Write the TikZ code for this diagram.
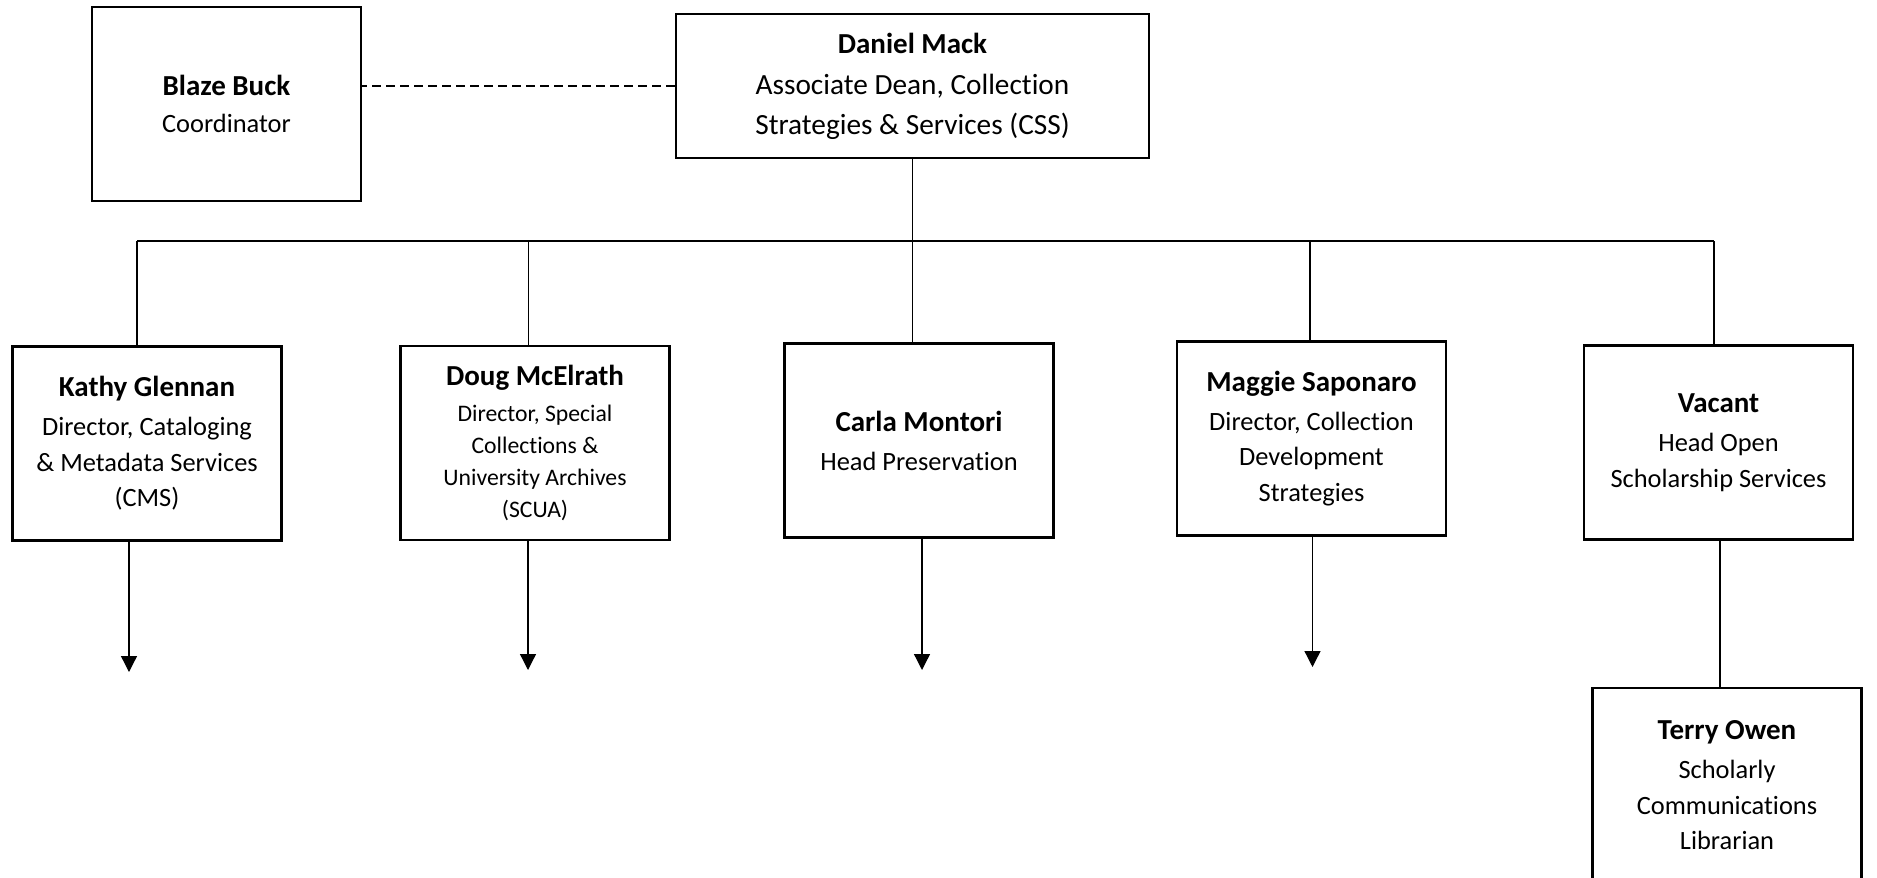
\documentclass[tikz,border=0pt]{standalone}
\usepackage{fontspec}
\setmainfont{Carlito}[Ligatures=NoCommon]
\usetikzlibrary{arrows.meta}
\tikzset{
  box/.style={draw=black, line width=2.6pt, rectangle, inner sep=0pt,
    minimum width=269pt, minimum height=194pt, align=center,
    font=\fontsize{26.4}{35.5}\selectfont},
  conn/.style={draw=black, line width=1.3pt},
  dashconn/.style={draw=black, line width=1.8pt, dash pattern=on 9pt off 5pt},
  arr/.style={conn, -{Triangle[width=16pt,length=16pt]}},
}
\newcommand{\nm}[1]{{\fontsize{29}{35.5}\selectfont\bfseries #1}}
\begin{document}
\begin{tikzpicture}[x=1pt,y=-1pt]
\useasboundingbox (0,0) rectangle (1877,878);
% boxes
\node[box] (blaze) at (226.5,104) {\nm{Blaze Buck}\\[2pt]Coordinator};
\node[box, minimum width=473pt, minimum height=144pt, font=\fontsize{29.3}{39.5}\selectfont] (daniel) at (912.5,86)
  {\nm{Daniel Mack}\\[2pt]Associate Dean, Collection\\Strategies \& Services (CSS)};
\node[box] (kathy) at (147,443.5) {\nm{Kathy Glennan}\\[3.5pt]Director, Cataloging\\\& Metadata Services\\(CMS)};
\node[box, font=\fontsize{23.7}{32}\selectfont] (doug) at (535,443)
  {\nm{Doug McElrath}\\[4pt]Director, Special\\Collections \&\\University Archives\\(SCUA)};
\node[box] (carla) at (919,440.5) {\nm{Carla Montori}\\[3.5pt]Head Preservation};
\node[box] (maggie) at (1311.5,438.5) {\nm{Maggie Saponaro}\\[3.5pt]Director, Collection\\Development\\Strategies};
\node[box] (vacant) at (1718.5,442.5) {\nm{Vacant}\\[3.5pt]Head Open\\Scholarship Services};
\node[box, minimum height=195pt] (terry) at (1727,785.5) {\nm{Terry Owen}\\[3.5pt]Scholarly\\Communications\\Librarian};
% dashed link
\draw[dashconn] (daniel.west) -- (daniel.west -| blaze.east);
% bus
\coordinate (busL) at (137,241);
\coordinate (busR) at (1714,241);
\coordinate (dk) at (528.5,241);
\coordinate (dc) at (912.5,241);
\coordinate (dm) at (1310,241);
\draw[conn] (busL) -- (busR);
\draw[conn] (daniel.south) -- (dc);
\draw[conn] (busL) -- (busL |- kathy.north);
\draw[conn] (dk) -- (dk |- doug.north);
\draw[conn] (dc) -- (dc |- carla.north);
\draw[conn] (dm) -- (dm |- maggie.north);
\draw[conn] (busR) -- (busR |- vacant.north);
% vacant to terry
\coordinate (vt) at (1720,600);
\draw[conn] (vt |- vacant.south) -- (vt |- terry.north);
% arrows
\coordinate (ka) at (129,672);
\coordinate (da) at (528,670);
\coordinate (ca) at (922,670);
\coordinate (ma) at (1312.5,667);
\draw[arr] (ka |- kathy.south) -- (ka);
\draw[arr] (da |- doug.south) -- (da);
\draw[arr] (ca |- carla.south) -- (ca);
\draw[arr] (ma |- maggie.south) -- (ma);
\end{tikzpicture}
\end{document}
